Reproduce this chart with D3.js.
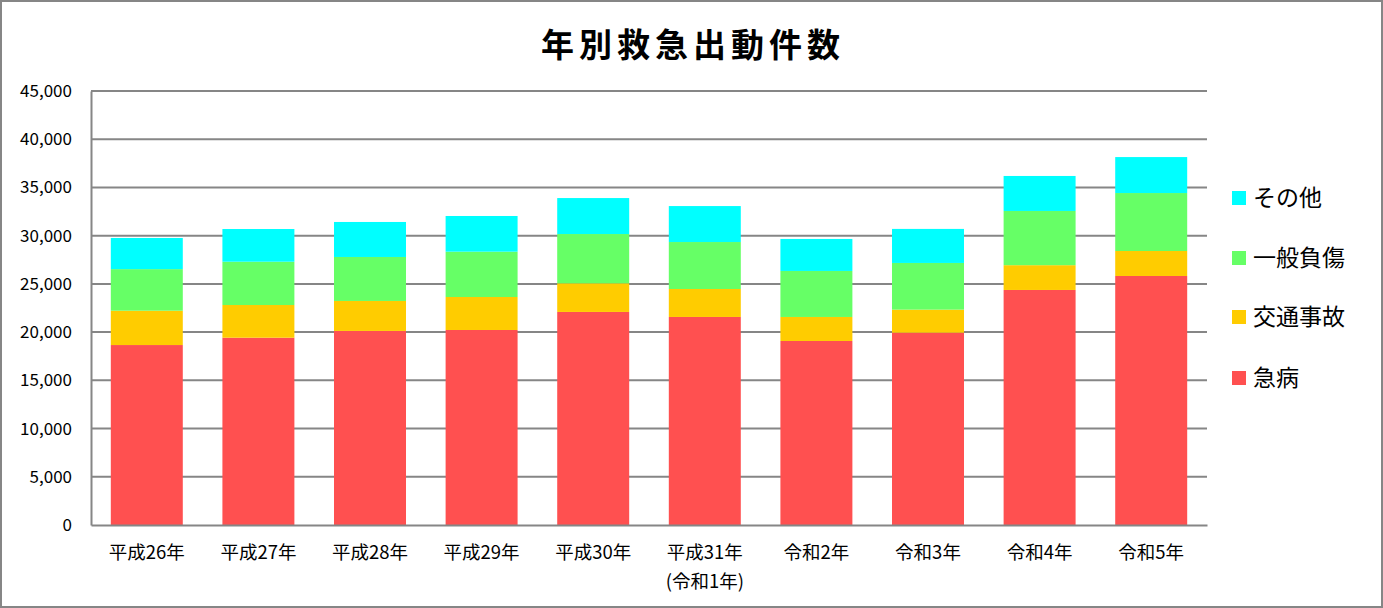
<!DOCTYPE html>
<html>
<head>
<meta charset="utf-8">
<script src="https://cdn.jsdelivr.net/npm/d3@7"></script>
<style>
  body { margin: 0; background: #fff; }
  svg text { font-family: "Noto Sans CJK JP", "Noto Sans", sans-serif; fill: #000; }
</style>
</head>
<body>
<div id="chart"></div>
<script>
// data
const years = ['平成26年', '平成27年', '平成28年', '平成29年', '平成30年', '平成31年\n(令和1年)', '令和2年', '令和3年', '令和4年', '令和5年'];
const kyubyo = [18660, 19420, 20120, 20220, 22090, 21570, 19080, 19940, 24370, 25820];
const kotsu = [3560, 3390, 3110, 3420, 2970, 2900, 2490, 2390, 2570, 2590];
const ippan = [4310, 4490, 4560, 4700, 5110, 4870, 4770, 4840, 5620, 6010];
const sonota = [3230, 3390, 3630, 3700, 3730, 3730, 3320, 3530, 3630, 3730];
const seriesNames = ['急病', '交通事故', '一般負傷', 'その他'];
const yTicks = [0, 5000, 10000, 15000, 20000, 25000, 30000, 35000, 40000, 45000];

const colors = ['#FF5050', '#FFCC00', '#66FF66', '#00FFFF'];

const W = 1383, H = 608;
const margin = { top: 91, right: 176, bottom: 83, left: 91 };
const width = W - margin.left - margin.right;
const height = H - margin.top - margin.bottom;

const rows = years.map((y, i) => ({
    year: y,
    '急病': kyubyo[i],
    '交通事故': kotsu[i],
    '一般負傷': ippan[i],
    'その他': sonota[i]
}));
const stacked = d3.stack().keys(seriesNames)(rows);

const svg = d3.select('#chart').append('svg').attr('width', W).attr('height', H);

// outer border
svg.append('rect').attr('x', 1).attr('y', 1).attr('width', W - 2).attr('height', H - 2)
    .attr('fill', '#fff').attr('stroke', '#868686').attr('stroke-width', 2);

svg.append('text').attr('x', 693).attr('y', 57).attr('text-anchor', 'middle')
    .style('font-size', '33px').style('font-weight', 'bold').style('letter-spacing', '5px')
    .text('年別救急出動件数');

const g = svg.append('g').attr('transform', 'translate(' + margin.left + ',' + margin.top + ')');

const x = d3.scaleBand().domain(years).range([0, width]).paddingInner(0.355).paddingOuter(0.1775);
const y = d3.scaleLinear().domain([0, 45000]).range([height, 0]);

// gridlines
g.append('g').selectAll('line').data(yTicks.filter(d => d > 0)).join('line')
    .attr('x1', 0).attr('x2', width)
    .attr('y1', d => y(d)).attr('y2', d => y(d))
    .attr('stroke', '#868686').attr('stroke-width', 2);

// bars
g.append('g').selectAll('g').data(stacked).join('g')
    .attr('fill', (d, i) => colors[i])
    .selectAll('rect').data(d => d).join('rect')
    .attr('x', d => x(d.data.year))
    .attr('width', x.bandwidth())
    .attr('y', d => y(d[1]))
    .attr('height', d => y(d[0]) - y(d[1]));

// y axis
const yAxisG = g.append('g').call(d3.axisLeft(y).tickValues(yTicks).tickSize(0).tickPadding(19).tickFormat(d3.format(',')));
yAxisG.select('.domain').attr('stroke', '#868686').attr('stroke-width', 2);
yAxisG.selectAll('text').style('font-size', '17px').attr('fill', '#000');

// x axis
const xAxisG = g.append('g').attr('transform', 'translate(0,' + height + ')')
    .call(d3.axisBottom(x).tickSize(0).tickFormat(''));
xAxisG.select('.domain').attr('stroke', '#868686').attr('stroke-width', 2);
xAxisG.selectAll('.tick').each(function(d) {
    const t = d3.select(this).append('text').attr('text-anchor', 'middle').style('font-size', '18.5px');
    d.split('\n').forEach((line, i) => {
        t.append('tspan').attr('x', 0).attr('y', 34 + i * 29).text(line);
    });
});

// legend
const legend = svg.append('g').attr('transform', 'translate(1232,0)');
const legendY = [378, 317, 258, 198];
seriesNames.forEach((name, i) => {
    const row = legend.append('g').attr('transform', 'translate(0,' + legendY[i] + ')');
    row.append('rect').attr('x', 0).attr('y', -7).attr('width', 14).attr('height', 14).attr('fill', colors[i]);
    row.append('text').attr('x', 21).attr('y', 8).style('font-size', '23px').text(name);
});
</script>
</body>
</html>
